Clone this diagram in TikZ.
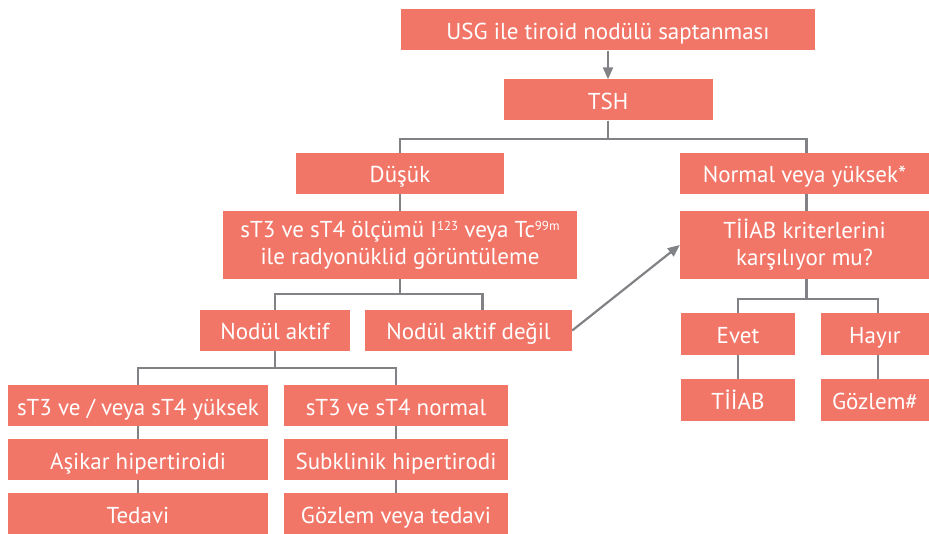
\documentclass[tikz,border=0pt]{standalone}
\usepackage{fontspec}
\setmainfont{PT Sans}
\usetikzlibrary{arrows.meta,positioning}
\definecolor{salmon}{RGB}{242,118,104}
\definecolor{linegray}{RGB}{128,130,133}
\newcommand{\supsm}[1]{\raisebox{0.62ex}{\fontsize{13}{13}\selectfont #1}}

\begin{document}
\begin{tikzpicture}[x=1pt, y=-1pt,
block/.style = {fill=salmon, text=white, rectangle, inner sep=2pt, minimum height=41pt, text height=20pt, text depth=1pt, font=\fontsize{23}{27}\selectfont, align=center},
tall/.style = {minimum height=68pt, text height={}, text depth={}},
link/.style = {draw=linegray, line width=2.2pt},
node distance = 54pt,
>={Triangle[length=12pt,width=10pt]}
]
\useasboundingbox (0,0) rectangle (929,534);

    % top of the tree
    \node [block, minimum width=414pt] (usg) at (608,30) {USG ile tiroid nodülü saptanması};
    \node [block, minimum width=209pt] (tsh) at (608,100) {TSH};

    \node [block, minimum width=208pt] (dusuk) at (400,173.5) {Düşük};
    \node [block, minimum width=249pt] (normal) at (804.5,173.5) {Normal veya yüksek*};

    \node [block, tall, minimum width=354pt] (olcum) at (400,245) {sT3 ve sT4 ölçümü I\supsm{123} veya Tc\supsm{99m}\\ile radyonüklid görüntüleme};
    \node [block, tall, minimum width=249pt] (kriter) at (804.5,245) {TİİAB kriterlerini\\karşılıyor mu?};

    \node [block, minimum width=150pt] (aktif) at (275,330.5) {Nodül aktif};
    \node [block, minimum width=207pt] (degil) at (468.5,330.5) {Nodül aktif değil};

    % left branch
    \node [block, minimum width=260pt] (yuksek) at (138,405.5) {sT3 ve / veya sT4 yüksek};
    \node [block, minimum width=260pt, below of=yuksek] (asikar) {Aşikar hipertiroidi};
    \node [block, minimum width=260pt, below of=asikar] (tedavi) {Tedavi};

    \node [block, minimum width=224pt] (snormal) at (396,405.5) {sT3 ve sT4 normal};
    \node [block, minimum width=224pt, below of=snormal] (subklinik) {Subklinik hipertirodi};
    \node [block, minimum width=224pt, below of=subklinik] (gozlemted) {Gözlem veya tedavi};

    % right branch
    \node [block, minimum width=114pt, minimum height=42pt] (evet) at (738,334) {Evet};
    \node [block, minimum width=108pt, minimum height=42pt] (hayir) at (875,334) {Hayır};
    \node [block, minimum width=114pt, minimum height=42pt, below of=evet, node distance=66pt] (tiiab) {TİİAB};
    \node [block, minimum width=108pt, minimum height=42pt, below of=hayir, node distance=66pt] (gozlem) {Gözlem\#};

    \draw [link, ->] (usg) -- (tsh);

    \draw [link] (tsh.south) -- ++(0,18) -| (dusuk.north);
    \draw [link] (tsh.south) -- ++(0,18) -| ([xshift=2pt]normal.north);

    \draw [link] (dusuk) -- (olcum);
    \draw [link] ([xshift=2pt]normal.south) -- ([xshift=2pt]kriter.north);

    \draw [link] (olcum.south) -- ++(0,15) -| (aktif.north);
    \draw [link] (olcum.south) -- ++(0,15) -| ([xshift=14pt]degil.north);

    \draw [link] (aktif.south) -- ++(0,17) -| (yuksek.north);
    \draw [link] (aktif.south) -- ++(0,17) -| (snormal.north);

    \draw [link] (yuksek) -- (asikar);
    \draw [link] (asikar) -- (tedavi);
    \draw [link] (snormal) -- (subklinik);
    \draw [link] (subklinik) -- (gozlemted);

    \draw [link] ([xshift=2pt]kriter.south) -- ++(0,20) -| (evet.north);
    \draw [link] ([xshift=2pt]kriter.south) -- ++(0,20) -| ([xshift=3pt]hayir.north);

    \draw [link] (evet) -- (tiiab);
    \draw [link] ([xshift=3pt]hayir.south) -- ([xshift=3pt]gozlem.north);

    \draw [link, ->] (degil.east) -- (kriter.west);

\end{tikzpicture}
\end{document}
